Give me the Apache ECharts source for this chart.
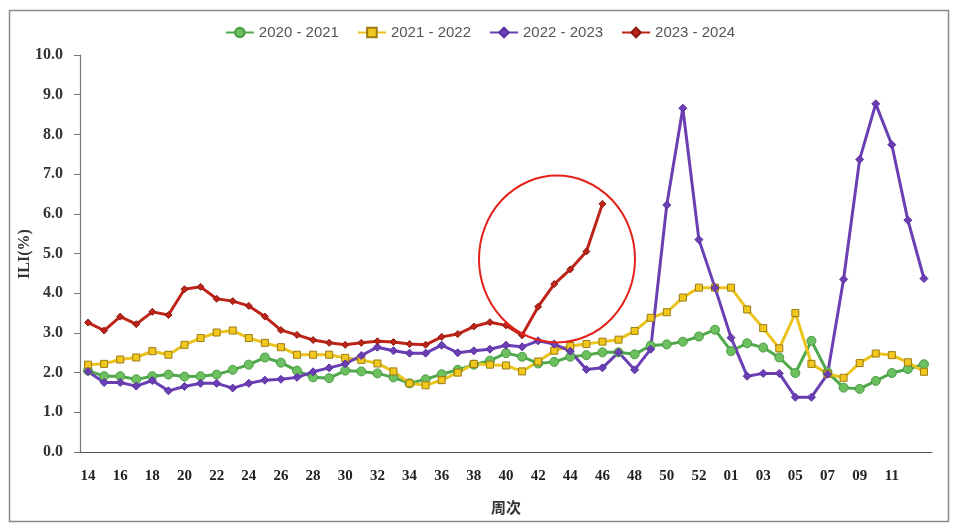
<!DOCTYPE html>
<html><head><meta charset="utf-8">
<script src="https://cdn.jsdelivr.net/npm/echarts@6/dist/echarts.min.js"></script>
<style>html,body{margin:0;padding:0;background:#fff}#c{width:960px;height:531px}</style>
</head><body><div id="c"></div>
<script>
var weeks = ['14','15','16','17','18','19','20','21','22','23','24','25','26','27','28','29','30','31','32','33','34','35','36','37','38','39','40','41','42','43','44','45','46','47','48','49','50','51','52','53','01','02','03','04','05','06','07','08','09','10','11','12','13'];
var seriesNames = ['2020 - 2021','2021 - 2022','2022 - 2023','2023 - 2024'];
var s2020 = [2.05,1.91,1.91,1.83,1.91,1.95,1.90,1.91,1.95,2.07,2.20,2.38,2.25,2.05,1.88,1.86,2.05,2.03,1.98,1.88,1.73,1.83,1.96,2.07,2.20,2.30,2.49,2.40,2.23,2.27,2.40,2.44,2.51,2.51,2.46,2.68,2.71,2.78,2.91,3.08,2.54,2.74,2.63,2.38,1.99,2.80,2.01,1.62,1.59,1.79,1.99,2.09,2.21];
var s2021 = [2.20,2.22,2.33,2.38,2.54,2.45,2.70,2.87,3.01,3.06,2.87,2.75,2.64,2.45,2.45,2.45,2.37,2.32,2.23,2.03,1.73,1.68,1.81,2.00,2.22,2.20,2.18,2.03,2.28,2.55,2.67,2.72,2.78,2.83,3.05,3.38,3.52,3.89,4.14,4.14,4.14,3.59,3.12,2.61,3.50,2.22,1.97,1.87,2.24,2.48,2.44,2.26,2.02];
var s2022 = [2.03,1.75,1.75,1.66,1.80,1.54,1.65,1.73,1.73,1.61,1.73,1.81,1.83,1.88,2.02,2.12,2.22,2.43,2.64,2.55,2.49,2.49,2.69,2.50,2.55,2.59,2.69,2.65,2.80,2.72,2.54,2.08,2.12,2.51,2.07,2.59,6.22,8.66,5.35,4.14,2.88,1.91,1.98,1.98,1.38,1.38,1.96,4.35,7.37,8.77,7.74,5.84,4.37];
var s2023 = [3.26,3.06,3.41,3.22,3.53,3.45,4.10,4.16,3.86,3.80,3.68,3.41,3.07,2.95,2.82,2.75,2.70,2.75,2.79,2.77,2.72,2.70,2.90,2.97,3.16,3.27,3.19,2.94,3.66,4.23,4.60,5.05,6.25];
var yTicks = [0,1,2,3,4,5,6,7,8,9,10];
var yTitle = 'ILI(%)';

var serif = '"Liberation Serif", "DejaVu Serif", serif';
var chart = echarts.init(document.getElementById('c'), null, {renderer:'canvas'});
function mk(name, data, color, fill, border, symbol, size){
  return {name:name, type:'line', data:data, xAxisIndex:0, symbol:symbol, symbolSize:size,
    lineStyle:{color:color, width:3}, itemStyle:{color:fill, borderColor:border, borderWidth:1},
    emphasis:{disabled:true}, animation:false};
}
chart.setOption({
  backgroundColor:'#fff',
  animation:false,
  legend:{top:20, left:'center', itemWidth:28, itemHeight:12, itemGap:18,
    textStyle:{color:'#555', fontSize:15, fontFamily:'"Liberation Sans", "Noto Sans", sans-serif'},
    data:seriesNames},
  grid:{left:80, right:28, top:55, bottom:79},
  xAxis:[{type:'category', data:weeks, boundaryGap:true,
    name:'周次', nameLocation:'middle', nameGap:48,
    nameTextStyle:{fontFamily:'"Noto Sans CJK SC", sans-serif', fontWeight:'bold', fontSize:15, color:'#333'},
    axisLine:{lineStyle:{color:'#555', width:1.2}},
    axisTick:{interval:1, length:5, lineStyle:{color:'#555'}},
    axisLabel:{interval:function(i){return i%2===0 && i<weeks.length-1;}, margin:17, color:'#222', fontFamily:serif, fontSize:15, fontWeight:'bold'},
    splitLine:{show:false}},
   {type:'category', data:weeks, position:'bottom', boundaryGap:true,
    axisLine:{show:false}, axisTick:{interval:0, length:2, lineStyle:{color:'#777'}},
    axisLabel:{show:false}, splitLine:{show:false}}],
  yAxis:{type:'value', min:yTicks[0], max:yTicks[yTicks.length-1], interval:1,
    axisLine:{show:true, lineStyle:{color:'#777', width:1.2}},
    axisTick:{show:true, length:6, lineStyle:{color:'#777'}},
    axisLabel:{margin:17, color:'#333', fontFamily:serif, fontSize:16, fontWeight:'bold', formatter:function(v){return v.toFixed(1);}},
    splitLine:{show:false}},
  graphic:[
    {type:'rect', left:7, top:8, shape:{width:939, height:511}, style:{fill:'none', stroke:'#8a8a8a', lineWidth:1.5}, silent:true},
    {type:'text', x:25, y:254, rotation:Math.PI/2, style:{text:yTitle, fill:'#333', font:'bold 16px "Liberation Serif", serif', textAlign:'center', textVerticalAlign:'middle', align:'center', verticalAlign:'middle'}, silent:true},
    {type:'circle', x:557, y:259, scaleX:1, scaleY:1.07, shape:{cx:0, cy:0, r:78}, style:{fill:'none', stroke:'#e3221b', lineWidth:2, strokeNoScale:true}, silent:true, z:100}
  ],
  series:[
    mk(seriesNames[0], s2020, '#4fa84a', '#6cc05f', '#4a9c45', 'circle', 9),
    mk(seriesNames[1], s2021, '#eac31c', '#f2c81d', '#9c7a12', 'rect', 7),
    mk(seriesNames[2], s2022, '#6a3fb3', '#6a3fb3', '#5a2fa0', 'diamond', 8),
    mk(seriesNames[3], s2023, '#bf2418', '#bf2418', '#8a1a12', 'diamond', 7)
  ]
});
</script></body></html>
